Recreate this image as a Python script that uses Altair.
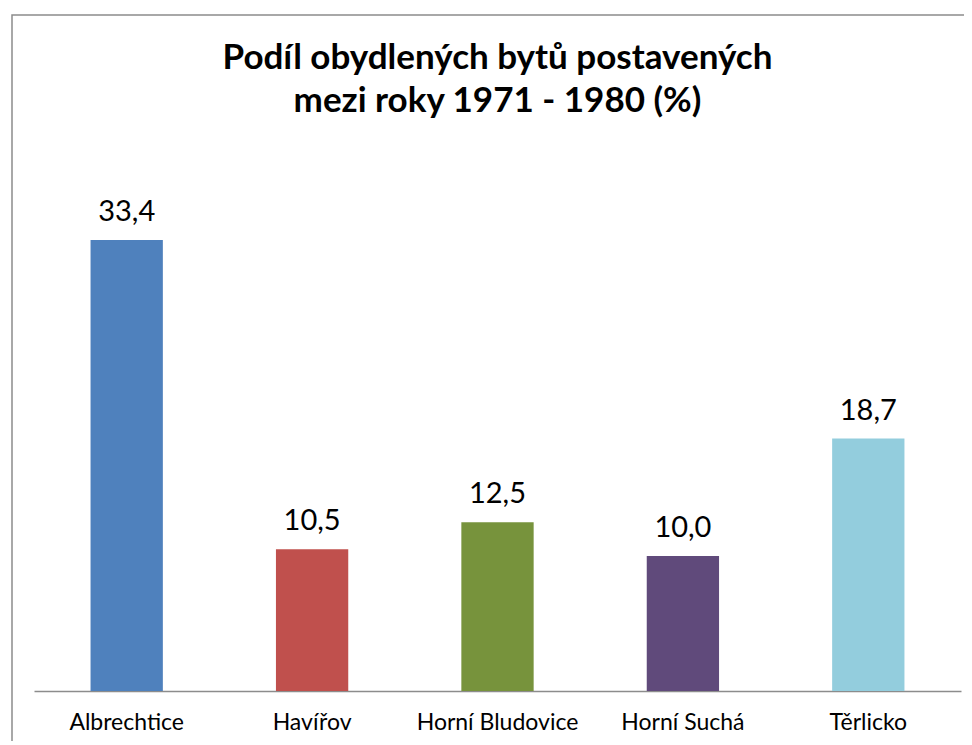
import altair as alt
import pandas as pd

obce = ["Albrechtice", "Havířov", "Horní Bludovice", "Horní Suchá", "Těrlicko"]
podil = [33.4, 10.5, 12.5, 10.0, 18.7]
barvy = ["#4F81BD", "#C0504D", "#77933C", "#604A7B", "#93CDDD"]
titulek = ["Podíl obydlených bytů postavených", "mezi roky 1971 - 1980 (%)"]

df = pd.DataFrame({"obec": obce, "podil": podil, "barva": barvy})

FONT = "Lato"

base = alt.Chart(df).encode(
    x=alt.X("obec:N", sort=obce, title=None,
            scale=alt.Scale(paddingInner=0.61, paddingOuter=0.305),
            axis=alt.Axis(labelAngle=0, labelFontSize=23, labelFont=FONT,
                          labelColor="#000000", labelPadding=20, ticks=False,
                          domainColor="#8c8c8c", domainWidth=1.5, grid=False)),
    y=alt.Y("podil:Q", title=None,
            scale=alt.Scale(domain=[0, 40], nice=False),
            axis=None),
)

bars = base.mark_bar().encode(
    color=alt.Color("barva:N", scale=None, legend=None)
)

labels = base.transform_calculate(
    lab="replace(format(datum.podil, '.1f'), '.', ',')"
).mark_text(fontSize=29, font=FONT, color="#000000", baseline="alphabetic", dy=-19).encode(
    text="lab:N"
)

border = alt.Chart(df).mark_rect(fill=None, stroke="#8c8c8c", strokeWidth=1.5, clip=False).encode(
    x=alt.value(-22), x2=alt.value(1000), y=alt.value(-136), y2=alt.value(700)
).transform_filter(alt.datum.obec == "Albrechtice")

t1 = alt.Chart(pd.DataFrame({"t": [titulek[0]]})).mark_text(
    fontSize=35, font=FONT, fontWeight="bold", color="#000000", baseline="alphabetic", align="center"
).encode(text="t:N", x=alt.value(463.5), y=alt.value(-82))

t2 = alt.Chart(pd.DataFrame({"t": [titulek[1]]})).mark_text(
    fontSize=35, font=FONT, fontWeight="bold", color="#000000", baseline="alphabetic", align="center"
).encode(text="t:N", x=alt.value(463.5), y=alt.value(-39))

chart = alt.layer(border, bars, labels, t1, t2).properties(
    width=927,
    height=540,
    autosize=alt.AutoSizeParams(type="none"),
    padding={"left": 26, "top": 143, "right": 3, "bottom": 50},
).configure_view(stroke=None)

chart.save("out.html", embed_options={"renderer": "svg", "actions": False})
